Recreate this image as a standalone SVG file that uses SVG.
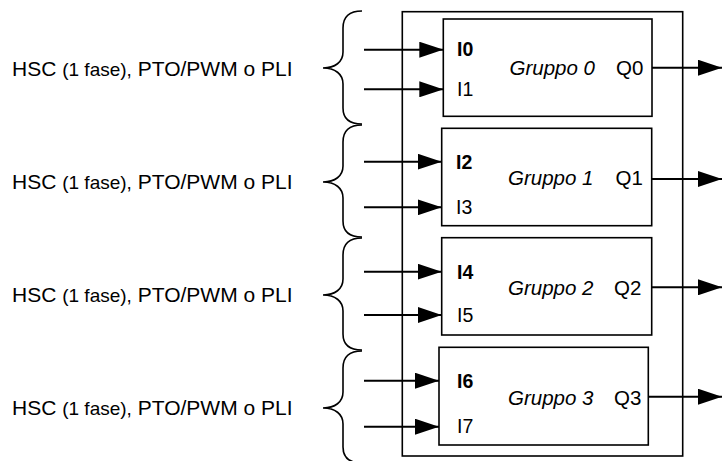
<svg xmlns="http://www.w3.org/2000/svg" width="722" height="461" viewBox="0 0 722 461">
<style>
.bg{fill:#fff}
.box{fill:#fff;stroke:#000;stroke-width:1.6}
.brace{fill:none;stroke:#000;stroke-width:1.6}
.wire{fill:none;stroke:#000;stroke-width:2}
.t{font-family:"Liberation Sans",Arial,sans-serif;fill:#000}
.lbl{font-size:21px}
.small{font-size:19px}
.in{font-size:19.5px}
.inb{font-size:19.5px;font-weight:bold}
.grp{font-size:20.5px;font-style:italic}
.q{font-size:20.5px}
</style>
<defs>
<marker id="ah" viewBox="0 0 24 16" refX="24" refY="8" markerWidth="24" markerHeight="16" markerUnits="userSpaceOnUse" orient="auto">
<path d="M0,0 L24,8 L0,16 Z" fill="#000"/>
</marker>
</defs>
<rect class="bg" x="0" y="0" width="722" height="461"/>

<g id="inputs">
<g id="input-0">
<path class="brace" d="M362,11 C350,11 343,16 343,28 L343,52 C343,62 335,68 323,68 C335,68 343,74 343,84 L343,108 C343,119 350,124 362,124"/>
<text class="t lbl" x="12" y="76">HSC <tspan class="small">(1 fase),</tspan> PTO/PWM o PLI</text>
</g>
<g id="input-1">
<path class="brace" d="M362,125 C350,125 343,130 343,142 L343,166 C343,176 335,182 323,182 C335,182 343,188 343,198 L343,221 C343,232 350,237 362,237"/>
<text class="t lbl" x="12" y="189">HSC <tspan class="small">(1 fase),</tspan> PTO/PWM o PLI</text>
</g>
<g id="input-2">
<path class="brace" d="M362,238 C350,238 343,243 343,255 L343,279 C343,289 335,295 323,295 C335,295 343,301 343,311 L343,334 C343,345 350,350 362,350"/>
<text class="t lbl" x="12" y="302">HSC <tspan class="small">(1 fase),</tspan> PTO/PWM o PLI</text>
</g>
<g id="input-3">
<path class="brace" d="M362,351 C350,351 343,356 343,368 L343,392 C343,402 335,408 323,408 C335,408 343,414 343,424 L343,447 C343,458 350,463 362,463"/>
<text class="t lbl" x="12" y="415">HSC <tspan class="small">(1 fase),</tspan> PTO/PWM o PLI</text>
</g>
</g>

<g id="module">
<rect class="box" x="402.3" y="11.7" width="280.4" height="444.3"/>
</g>

<g id="gruppo-0">
<rect class="box" x="443.3" y="19" width="208.7" height="97.3"/>
<text class="t inb" x="457" y="56">I0</text>
<text class="t in" x="457" y="96">I1</text>
<text class="t grp" x="509.5" y="75">Gruppo 0</text>
<text class="t q" x="616" y="75">Q0</text>
</g>
<g id="gruppo-1">
<rect class="box" x="441.7" y="128.3" width="210" height="97.4"/>
<text class="t inb" x="456" y="168.5">I2</text>
<text class="t in" x="456" y="213.5">I3</text>
<text class="t grp" x="508" y="185">Gruppo 1</text>
<text class="t q" x="615.5" y="185">Q1</text>
</g>
<g id="gruppo-2">
<rect class="box" x="441.7" y="237.7" width="210" height="97.3"/>
<text class="t inb" x="457" y="278.5">I4</text>
<text class="t in" x="457" y="322">I5</text>
<text class="t grp" x="508" y="294.5">Gruppo 2</text>
<text class="t q" x="614" y="294.5">Q2</text>
</g>
<g id="gruppo-3">
<rect class="box" x="439" y="347.3" width="209.3" height="97.7"/>
<text class="t inb" x="457" y="387.5">I6</text>
<text class="t in" x="457" y="433">I7</text>
<text class="t grp" x="508" y="404.5">Gruppo 3</text>
<text class="t q" x="614" y="405">Q3</text>
</g>

<g id="connectors">
<line class="wire" x1="364" y1="49.7" x2="443.3" y2="49.7" marker-end="url(#ah)"/>
<line class="wire" x1="364" y1="89.3" x2="443.3" y2="89.3" marker-end="url(#ah)"/>
<line class="wire" x1="364" y1="161.7" x2="441.7" y2="161.7" marker-end="url(#ah)"/>
<line class="wire" x1="364" y1="207.3" x2="441.7" y2="207.3" marker-end="url(#ah)"/>
<line class="wire" x1="364" y1="271.7" x2="441.7" y2="271.7" marker-end="url(#ah)"/>
<line class="wire" x1="364" y1="315" x2="441.7" y2="315" marker-end="url(#ah)"/>
<line class="wire" x1="364" y1="380.7" x2="439" y2="380.7" marker-end="url(#ah)"/>
<line class="wire" x1="364" y1="426.7" x2="439" y2="426.7" marker-end="url(#ah)"/>
<line class="wire" x1="652" y1="67.7" x2="722" y2="67.7" marker-end="url(#ah)"/>
<line class="wire" x1="651.7" y1="179" x2="722" y2="179" marker-end="url(#ah)"/>
<line class="wire" x1="651.7" y1="287.3" x2="722" y2="287.3" marker-end="url(#ah)"/>
<line class="wire" x1="648.3" y1="396.7" x2="722" y2="396.7" marker-end="url(#ah)"/>
</g>
</svg>
